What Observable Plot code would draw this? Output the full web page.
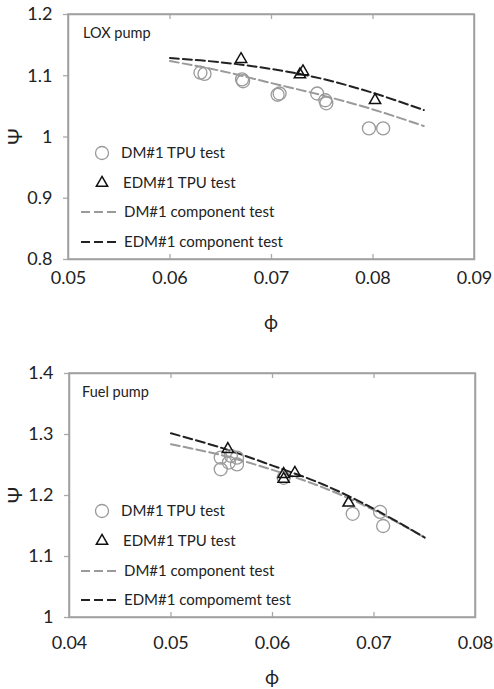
<!DOCTYPE html>
<html><head><meta charset="utf-8">
<script src="https://cdn.jsdelivr.net/npm/d3@7"></script>
<script src="https://cdn.jsdelivr.net/npm/@observablehq/plot@0.6"></script>
<style>
body{margin:0;background:#fff;font-family:Lato,"Open Sans",sans-serif}
#c svg{display:block;overflow:visible}
</style>
</head><body><div id="c"></div>
<script>
// ---- LOX pump ----
const loxDMPhi = [0.0630,0.0634,0.0671,0.0672,0.0706,0.0708,0.0745,0.0753,0.0754,0.0796,0.0810];
const loxDMPsi = [1.105,1.103,1.094,1.091,1.069,1.071,1.071,1.060,1.055,1.014,1.014];
const loxEDMPhi = [0.0670,0.0728,0.0731,0.0802];
const loxEDMPsi = [1.127,1.102,1.107,1.060];
const loxCurvePhi = [0.060,0.065,0.070,0.075,0.080,0.085];
const loxDMComp = [1.124,1.108,1.088,1.068,1.045,1.018];
const loxEDMComp = [1.129,1.122,1.111,1.095,1.072,1.044];
const loxXTicks = [0.05,0.06,0.07,0.08,0.09];
const loxYTicks = [0.8,0.9,1.0,1.1,1.2];

// ---- Fuel pump ----
const fuelDMPhi = [0.0549,0.0549,0.0559,0.0565,0.0565,0.0557,0.0611,0.0679,0.0706,0.0709];
const fuelDMPsi = [1.262,1.243,1.265,1.262,1.251,1.254,1.229,1.170,1.173,1.150];
const fuelEDMPhi = [0.0556,0.0611,0.0611,0.0622,0.0675];
const fuelEDMPsi = [1.276,1.235,1.227,1.237,1.188];
const fuelCurvePhi = [0.050,0.055,0.060,0.065,0.070,0.075];
const fuelDMComp = [1.284,1.266,1.242,1.213,1.176,1.131];
const fuelEDMComp = [1.302,1.278,1.249,1.218,1.178,1.131];
const fuelXTicks = [0.04,0.05,0.06,0.07,0.08];
const fuelYTicks = [1.0,1.1,1.2,1.3,1.4];

const legendLabels = {
  lox: ["DM#1 TPU test","EDM#1 TPU test","DM#1 component test","EDM#1 component test"],
  fuel: ["DM#1 TPU test","EDM#1 TPU test","DM#1 component test","EDM#1 compomemt test"]
};
const xLabel = "ϕ";
const yLabel = "Ψ";

const GRAY = "#9a9a9a";
const FONT = "Lato, sans-serif";

function zip(a,b){return a.map((v,i)=>({x:v,y:b[i]}));}

function chart(o){
  const W = 494;
  const pw = W - o.marginLeft - o.marginRight;
  const ph = o.height - o.marginTop - o.marginBottom;
  const svg = Plot.plot({
    width: W, height: o.height,
    marginTop: o.marginTop, marginBottom: o.marginBottom,
    marginLeft: o.marginLeft, marginRight: o.marginRight,
    style: {fontFamily: FONT},
    x: {domain: [o.xTicks[0], o.xTicks[o.xTicks.length-1]]},
    y: {domain: [o.yTicks[0], o.yTicks[o.yTicks.length-1]]},
    marks: [
      Plot.axisY(o.yTicks, {tickSize: 5, stroke: "#aaa", strokeWidth: 1.3, fill: "#222", tickPadding: 11, fontSize: 18,
        tickFormat: d => String(d), label: null}),
      Plot.axisX(o.xTicks, {tickSize: 0, tickPadding: o.xPad, fontSize: 18, fill: "#222",
        tickFormat: d => d.toFixed(2), label: null}),
      Plot.tickX(o.xTicks.slice(1,-1), {x: d => d, stroke: "#aaa", strokeWidth: 1.3, insetTop: ph - 5}),
      Plot.tickX(o.xTicks.slice(1,-1), {x: d => d, stroke: "#aaa", strokeWidth: 1.3, insetBottom: ph - 5}),
      Plot.frame({stroke: "#a0a0a0", strokeWidth: 1.5}),
      Plot.line(zip(o.curvePhi, o.dmComp), {x: "x", y: "y", stroke: GRAY, strokeWidth: 2, strokeDasharray: "9,4", curve: "catmull-rom"}),
      Plot.line(zip(o.curvePhi, o.edmComp), {x: "x", y: "y", stroke: "#222", strokeWidth: 2, strokeDasharray: "9,4", curve: "catmull-rom"}),
      Plot.dot(zip(o.dmPhi, o.dmPsi), {x: "x", y: "y", r: 6.5, stroke: GRAY, strokeWidth: 1.3, fill: "none"}),
      Plot.dot(zip(o.edmPhi, o.edmPsi), {x: "x", y: "y", r: 4.2, symbol: "triangle", stroke: "#111", strokeWidth: 1.5, fill: "none"})
    ]
  });
  const s = d3.select(svg);
  s.append("rect").attr("x", o.marginLeft).attr("y", o.marginTop)
    .attr("width", pw).attr("height", ph)
    .attr("fill", "none").attr("stroke", "#a0a0a0").attr("stroke-width", 1.5);
  const cx = o.marginLeft + pw / 2;
  const cy = o.marginTop + ph / 2;
  const g = s.append("g").attr("font-family", FONT).attr("fill", "#222").attr("text-anchor", "start");
  g.append("text").attr("x", cx).attr("y", o.marginTop + ph + o.labelOffset).attr("dy", "0.35em")
    .attr("text-anchor", "middle").attr("font-size", 19).text(xLabel);
  g.append("text").attr("transform", `translate(15,${cy}) rotate(-90)`).attr("dy", "0.35em")
    .attr("text-anchor", "middle").attr("font-size", 20).text(yLabel);
  const L = o.legend;
  g.append("text").attr("x", L.titleX).attr("y", L.titleY).attr("dy", "0.35em").attr("font-size", 14.5).text(o.title);
  g.append("circle").attr("cx", 102).attr("cy", L.rows[0]).attr("r", 6.5).attr("fill", "none").attr("stroke", GRAY).attr("stroke-width", 1.3);
  g.append("path").attr("d", d3.symbol(d3.symbolTriangle, 4.2*4.2*Math.PI)()).attr("transform", `translate(102,${L.rows[1]})`)
    .attr("fill", "none").attr("stroke", "#111").attr("stroke-width", 1.5);
  g.append("line").attr("x1", 81).attr("x2", 120).attr("y1", L.rows[2]).attr("y2", L.rows[2]).attr("stroke", GRAY).attr("stroke-width", 2).attr("stroke-dasharray", "9,4");
  g.append("line").attr("x1", 81).attr("x2", 120).attr("y1", L.rows[3]).attr("y2", L.rows[3]).attr("stroke", "#222").attr("stroke-width", 2).attr("stroke-dasharray", "9,4");
  const tx = [121, 123, 124, 124];
  o.labels.forEach((t, i) => {
    g.append("text").attr("x", tx[i]).attr("y", L.rows[i]).attr("dy", "0.35em").attr("font-size", 15).text(t);
  });
  return svg;
}

const c = document.getElementById("c");
c.appendChild(chart({
  height: 340, marginTop: 14, marginBottom: 81, marginLeft: 68, marginRight: 20,
  xTicks: loxXTicks, yTicks: loxYTicks, xPad: 12, labelOffset: 63,
  dmPhi: loxDMPhi, dmPsi: loxDMPsi, edmPhi: loxEDMPhi, edmPsi: loxEDMPsi,
  curvePhi: loxCurvePhi, dmComp: loxDMComp, edmComp: loxEDMComp,
  title: "LOX pump", labels: legendLabels.lox,
  legend: {titleX: 83, titleY: 33, rows: [153, 183, 212, 242]}
}));
c.appendChild(chart({
  height: 349, marginTop: 33, marginBottom: 72, marginLeft: 69, marginRight: 19,
  xTicks: fuelXTicks, yTicks: fuelYTicks, xPad: 19, labelOffset: 60,
  dmPhi: fuelDMPhi, dmPsi: fuelDMPsi, edmPhi: fuelEDMPhi, edmPsi: fuelEDMPsi,
  curvePhi: fuelCurvePhi, dmComp: fuelDMComp, edmComp: fuelEDMComp,
  title: "Fuel pump", labels: legendLabels.fuel,
  legend: {titleX: 82, titleY: 52, rows: [171, 201, 231, 260]}
}));
</script>
</body></html>
